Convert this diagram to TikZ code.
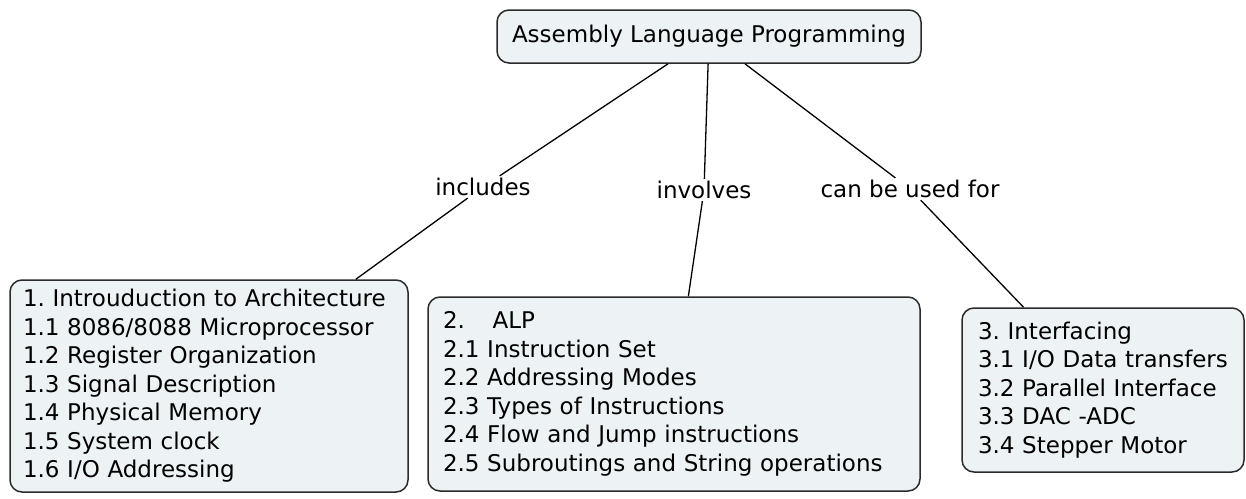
\documentclass[tikz,border=0pt]{standalone}
\usepackage{fontspec}
\setmainfont{DejaVu Sans}
\usepackage{tikz}
\definecolor{cmapfill}{HTML}{EDF2F5}
\definecolor{cmapline}{HTML}{2B2B2B}
\frenchspacing

\begin{document}
\begin{tikzpicture}[x=1pt,y=-1pt,
    concept/.style={rounded corners=12pt,fill=cmapfill,draw=cmapline,line width=1.5pt,align=left,font=\fontsize{23}{28.5}\selectfont},
    linkword/.style={inner sep=2pt,font=\fontsize{23}{28.5}\selectfont},
    link/.style={line width=1.3pt,black}]
        \useasboundingbox (0,0) rectangle (1246,498);
        \node[concept,align=center,minimum width=424pt,minimum height=53pt] (alp) at (709,36.5) {Assembly Language Programming};
        \node[linkword] (inc) at (483,187) {includes};
        \node[linkword] (inv) at (704,190) {involves};
        \node[linkword] (use) at (910,189) {can be used for};
        \node[concept,text width=372pt,inner xsep=13pt,minimum height=212pt] (arch) at (209,386) {1. Introuduction to Architecture\\1.1 8086/8088 Microprocessor\\1.2 Register Organization\\1.3 Signal Description\\1.4 Physical Memory\\1.5 System clock\\1.6 I/O Addressing};
        \node[concept,text width=462pt,inner xsep=15pt,minimum height=194pt] (prog) at (674,394) {2.\hspace{1.2em}ALP\\2.1 Instruction Set\\2.2 Addressing Modes\\2.3 Types of Instructions\\2.4 Flow and Jump instructions\\2.5 Subroutings and String operations};
        \node[concept,text width=250pt,inner xsep=16pt,minimum height=164pt] (intf) at (1103,390) {3. Interfacing\\3.1 I/O Data transfers\\3.2 Parallel Interface\\3.3 DAC -ADC\\3.4 Stepper Motor};
        \draw[link] (alp) -- (inc);
        \draw[link] (inc) -- (arch);
        \draw[link] (alp) -- (inv);
        \draw[link] (inv) -- (prog);
        \draw[link] (alp) -- (use);
        \draw[link] (use) -- (intf);
      \end{tikzpicture}
\end{document}
